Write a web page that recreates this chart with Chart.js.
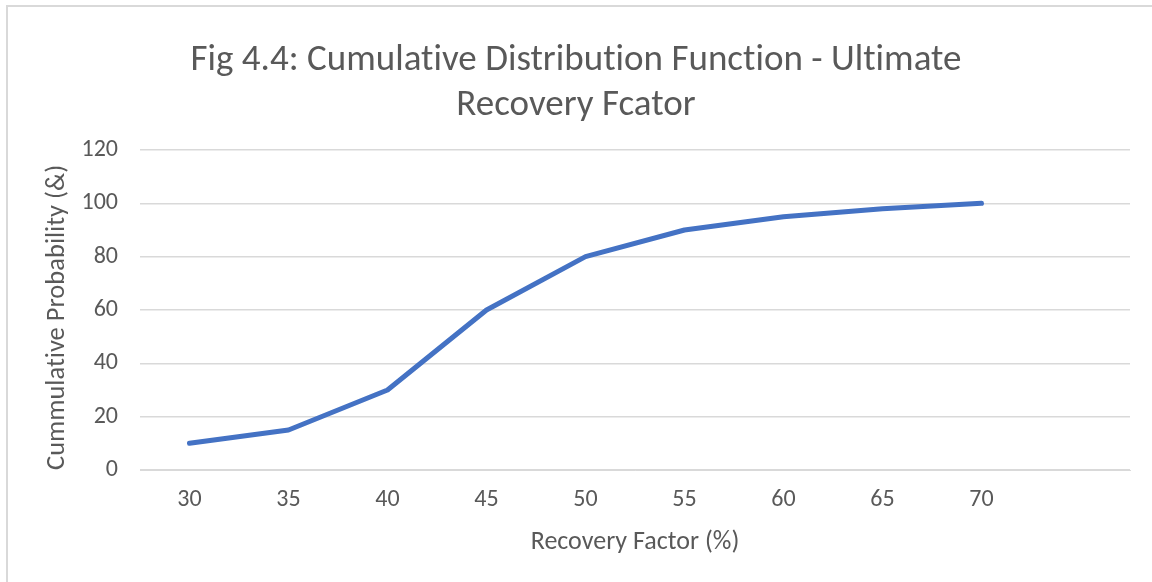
<!DOCTYPE html>
<html>
<head>
<meta charset="utf-8">
<script src="https://cdn.jsdelivr.net/npm/chart.js@4.4.1/dist/chart.umd.min.js"></script>
<style>
  html, body { margin: 0; padding: 0; background: #fff; }
  #wrap { position: relative; width: 1152px; height: 582px; }
  #frame {
    position: absolute; left: 6px; top: 5px; right: -10px; bottom: -10px;
    border-top: 2px solid #d9d9d9; border-left: 2px solid #d9d9d9;
    pointer-events: none;
  }
</style>
</head>
<body>
<div id="wrap">
  <canvas id="cdf" width="1152" height="582"></canvas>
  <div id="frame"></div>
</div>
<script>
// ---- data ----
const recoveryFactor = ["30", "35", "40", "45", "50", "55", "60", "65", "70", ""];
const cumulativeProb = [10, 15, 30, 60, 80, 90, 95, 98, 100, null];
const yTicks = [0, 20, 40, 60, 80, 100, 120];

const titleLines = ["Fig 4.4: Cumulative Distribution Function - Ultimate", "Recovery Fcator"];
const xTitle = "Recovery Factor (%)";
const yTitle = "Cummulative Probability (&)";

const FONT = "Carlito, Lato, 'Open Sans', sans-serif";
const TEXT = "#595959";
const GRID = "#d9d9d9";

// keep "ti" etc. from turning into ligatures (reference uses plain Calibri glyphs)
const noLigatures = {
  id: "noLigatures",
  beforeDraw(chart) { chart.ctx.letterSpacing = "0.01px"; }
};

new Chart(document.getElementById("cdf"), {
  type: "line",
  data: {
    labels: recoveryFactor,
    datasets: [{
      data: cumulativeProb,
      borderColor: "#4472c4",
      borderWidth: 5,
      borderCapStyle: "round",
      borderJoinStyle: "round",
      pointRadius: 0,
      tension: 0,
      fill: false
    }]
  },
  plugins: [noLigatures],
  options: {
    responsive: false,
    animation: false,
    // symmetric side padding so the chart title centres on the frame like the reference
    layout: { padding: { left: 22, right: 22, top: 0, bottom: 0 } },
    plugins: {
      legend: { display: false },
      tooltip: { enabled: false },
      title: {
        display: true,
        text: titleLines,
        color: TEXT,
        font: { family: FONT, size: 37, weight: "normal", lineHeight: "45px" },
        padding: { top: 38, bottom: 22 }
      }
    },
    scales: {
      x: {
        offset: true,
        grid: { display: false, drawTicks: false },
        border: { color: GRID },
        ticks: { color: TEXT, font: { family: FONT, size: 24 }, padding: 16, maxRotation: 0, autoSkip: false },
        title: { display: true, text: xTitle, color: TEXT, font: { family: FONT, size: 26 }, padding: { top: 0, bottom: 24 } },
        afterFit: (s) => { s.height = 112; }
      },
      y: {
        min: 0,
        max: 120,
        afterBuildTicks: (s) => { s.ticks = yTicks.map((v) => ({ value: v })); },
        grid: { color: GRID, lineWidth: 1.5, drawTicks: false },
        border: { display: false },
        ticks: { color: TEXT, font: { family: FONT, size: 24 }, padding: 22 },
        title: {
          display: true, text: yTitle, align: "start", color: TEXT,
          font: { family: FONT, size: 26.5 }, padding: { top: 19, bottom: 0 }
        },
        afterFit: (s) => { s.width = 118; }
      }
    }
  }
});
</script>
</body>
</html>
